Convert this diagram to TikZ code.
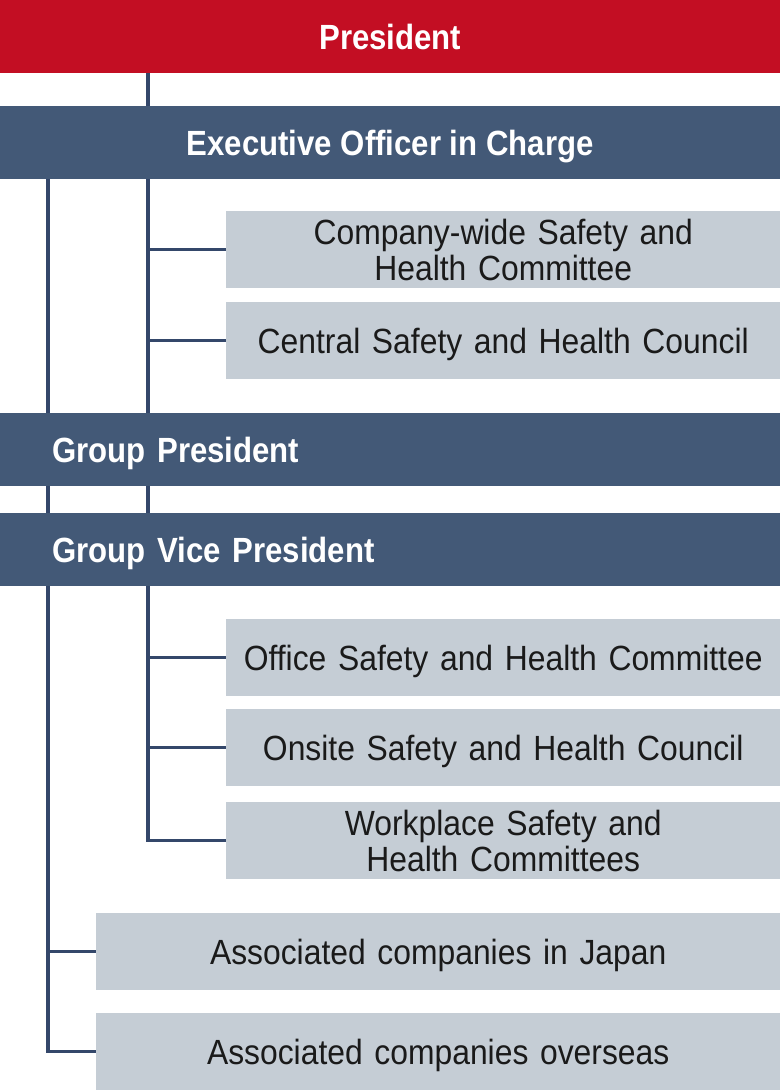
\documentclass[tikz,border=0pt]{standalone}
\usepackage{fontspec}
\newfontfamily\regfont{Liberation Sans}[FakeStretch=0.91]
\newfontfamily\barfont{Liberation Sans}[FakeStretch=0.89]
\definecolor{presred}{HTML}{C30E23}
\definecolor{navybar}{HTML}{435977}
\definecolor{linecol}{HTML}{34476A}
\definecolor{lightbox}{HTML}{C5CDD5}
\definecolor{boxtext}{HTML}{1A1A1A}
\begin{document}
\begin{tikzpicture}[x=1bp,y=-1bp,
  barbase/.style={inner sep=0pt, text=white, minimum height=73bp,
    font=\barfont\bfseries\fontsize{35bp}{36bp}\selectfont,
    text height=25bp, text depth=0pt, anchor=north west},
  redbar/.style={barbase, fill=presred, minimum width=780bp},
  bluebar/.style={barbase, fill=navybar, minimum width=780bp},
  leftbar/.style={barbase, fill=navybar, text width=676bp, inner xsep=52bp, align=left},
  lbox/.style={fill=lightbox, text=boxtext, inner sep=0pt, minimum height=77bp,
    font=\regfont\fontsize{35bp}{36bp}\selectfont, align=center,
    text height=25bp, text depth=0pt, anchor=north west},
  lbox2/.style={lbox, text depth=36bp},
  conn/.style={draw=linecol, line width=3.5bp, line join=miter}
]
\useasboundingbox (0,0) rectangle (780,1090);
\coordinate (L) at (48,0);
\coordinate (R) at (148,0);

\node[redbar] (pres) at (0,0) {President};
\node[bluebar] (eo) at (0,106) {Executive Officer in Charge};
\node[lbox2, text width=554bp] (comp) at (226,211) {Company-wide Safety and\\Health Committee};
\node[lbox, text width=554bp] (central) at (226,302) {Central Safety and Health Council};
\node[leftbar] (gp) at (0,413) {Group President};
\node[leftbar] (gvp) at (0,513) {Group Vice President};
\node[lbox, text width=554bp] (office) at (226,619) {Office Safety and Health Committee};
\node[lbox, text width=554bp] (onsite) at (226,709) {Onsite Safety and Health Council};
\node[lbox2, text width=554bp] (workplace) at (226,802) {Workplace Safety and\\Health Committees};
\node[lbox, text width=684bp] (japan) at (96,913) {Associated companies in Japan};
\node[lbox, text width=684bp] (overseas) at (96,1013) {Associated companies overseas};

\draw[conn] (pres.south -| R) -- (eo.north -| R);
\draw[conn] (eo.south -| L) -- (gp.north -| L);
\draw[conn] (eo.south -| R) -- (gp.north -| R);
\draw[conn] (eo.south -| R) |- (comp.west);
\draw[conn] (eo.south -| R) |- (central.west);
\draw[conn] (gp.south -| L) -- (gvp.north -| L);
\draw[conn] (gp.south -| R) -- (gvp.north -| R);
\draw[conn] (gvp.south -| R) |- (office.west);
\draw[conn] (gvp.south -| R) |- (onsite.west);
\draw[conn] (gvp.south -| R) |- (workplace.west);
\draw[conn] (gvp.south -| L) |- (japan.west);
\draw[conn] (gvp.south -| L) |- (overseas.west);
\end{tikzpicture}
\end{document}
